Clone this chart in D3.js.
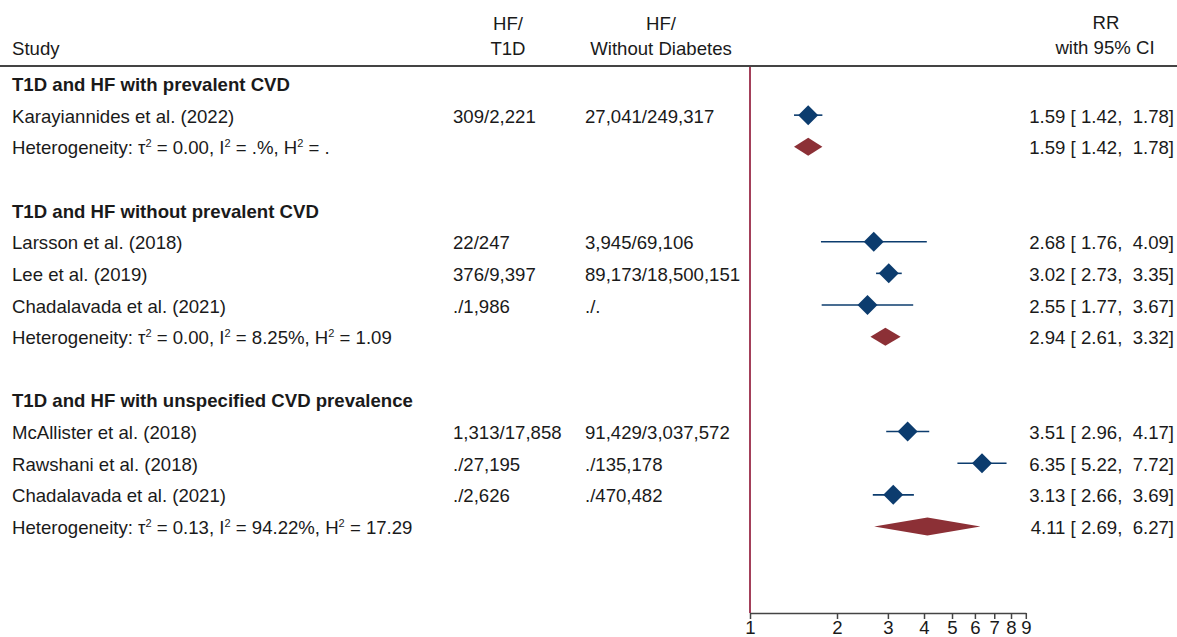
<!DOCTYPE html>
<html>
<head>
<meta charset="utf-8">
<script src="https://cdn.jsdelivr.net/npm/d3@7"></script>
<style>
  html, body { margin: 0; padding: 0; background: #fff; }
  svg { display: block; }
  text { font-family: "Liberation Sans", Arial, sans-serif; fill: #1a1a1a; white-space: pre; }
</style>
</head>
<body>
<svg id="chart" width="1177" height="637"></svg>
<script>
// ---- data ----
const groupTitles = [
  "T1D and HF with prevalent CVD",
  "T1D and HF without prevalent CVD",
  "T1D and HF with unspecified CVD prevalence"
];
const studies = [
  "Karayiannides et al. (2022)",
  "Larsson et al. (2018)",
  "Lee et al. (2019)",
  "Chadalavada et al. (2021)",
  "McAllister et al. (2018)",
  "Rawshani et al. (2018)",
  "Chadalavada et al. (2021)"
];
const studyGroup = [0, 1, 1, 1, 2, 2, 2];
const hfT1D = ["309/2,221", "22/247", "376/9,397", "./1,986", "1,313/17,858", "./27,195", "./2,626"];
const hfNoDM = ["27,041/249,317", "3,945/69,106", "89,173/18,500,151", "./.", "91,429/3,037,572", "./135,178", "./470,482"];
const studyRR = [1.59, 2.68, 3.02, 2.55, 3.51, 6.35, 3.13];
const studyLo = [1.42, 1.76, 2.73, 1.77, 2.96, 5.22, 2.66];
const studyHi = [1.78, 4.09, 3.35, 3.67, 4.17, 7.72, 3.69];
const pooledRR = [1.59, 2.94, 4.11];
const pooledLo = [1.42, 2.61, 2.69];
const pooledHi = [1.78, 3.32, 6.27];
const hetTau2 = ["0.00", "0.00", "0.13"];
const hetI2 = [".%", "8.25%", "94.22%"];
const hetH2 = [".", "1.09", "17.29"];
const axisTicks = [1, 2, 3, 4, 5, 6, 7, 8, 9];

// ---- layout ----
const svg = d3.select("#chart");
const FS = 18.6;
const x = d3.scaleLog().domain([1, 9]).range([750, 1025.8]);
const row = d3.scaleLinear().domain([0, 14]).range([91, 534]); // text baseline per row index

// build row list
const rows = [];
let r = 0;
groupTitles.forEach((g, gi) => {
  rows.push({ type: "title", gi, idx: r++ });
  studies.forEach((s, si) => {
    if (studyGroup[si] === gi) rows.push({ type: "study", si, idx: r++ });
  });
  rows.push({ type: "het", gi, idx: r++ });
  r++; // blank row
});

const fmt = d3.format(".2f");
const pad = v => { const s = fmt(v); return s.length < 5 ? " " + s : s; };
const ciText = (e, l, h) => `${fmt(e)} [${pad(l)}, ${pad(h)}]`;

// ---- header ----
const hdr = svg.append("g").style("font-size", FS + "px");
hdr.append("text").attr("x", 12).attr("y", 55).text("Study");
hdr.append("text").attr("x", 508).attr("y", 30).attr("text-anchor", "middle").text("HF/");
hdr.append("text").attr("x", 508).attr("y", 55).attr("text-anchor", "middle").text("T1D");
hdr.append("text").attr("x", 661).attr("y", 30).attr("text-anchor", "middle").text("HF/");
hdr.append("text").attr("x", 661).attr("y", 55).attr("text-anchor", "middle").text("Without Diabetes");
hdr.append("text").attr("x", 1106).attr("y", 29).attr("text-anchor", "middle").text("RR");
hdr.append("text").attr("x", 1105).attr("y", 54).attr("text-anchor", "middle").text("with 95% CI");

svg.append("line").attr("x1", 0).attr("x2", 1177).attr("y1", 66).attr("y2", 66)
  .attr("stroke", "#444").attr("stroke-width", 2);

// ---- null line ----
svg.append("line").attr("x1", x(1)).attr("x2", x(1)).attr("y1", 67).attr("y2", 613)
  .attr("stroke", "#a3405a").attr("stroke-width", 2);

// ---- rows ----
const g = svg.append("g").style("font-size", FS + "px");
const navy = "#0c3c6e", maroon = "#8c3036";

rows.forEach(d => {
  const y = row(d.idx);
  const cy = y - 7.5;
  if (d.type === "title") {
    g.append("text").attr("x", 12).attr("y", y).attr("font-weight", "bold").text(groupTitles[d.gi]);
  } else if (d.type === "study") {
    const i = d.si;
    g.append("text").attr("x", 12).attr("y", y).text(studies[i]);
    g.append("text").attr("x", 453).attr("y", y).text(hfT1D[i]);
    g.append("text").attr("x", 585).attr("y", y).text(hfNoDM[i]);
    g.append("text").attr("x", 1174).attr("y", y).attr("text-anchor", "end")
      .text(ciText(studyRR[i], studyLo[i], studyHi[i]));
    g.append("line").attr("x1", x(studyLo[i])).attr("x2", x(studyHi[i]))
      .attr("y1", cy).attr("y2", cy).attr("stroke", navy).attr("stroke-width", 1.6);
    const mx = x(studyRR[i]), s = 10;
    g.append("path").attr("d", `M${mx - s},${cy}L${mx},${cy - s}L${mx + s},${cy}L${mx},${cy + s}Z`)
      .attr("fill", navy);
  } else {
    const i = d.gi;
    const t = g.append("text").attr("x", 12).attr("y", y);
    t.append("tspan").text("Heterogeneity: τ");
    t.append("tspan").attr("dy", -7).style("font-size", "11px").text("2");
    t.append("tspan").attr("dy", 7).text(` = ${hetTau2[i]}, I`);
    t.append("tspan").attr("dy", -7).style("font-size", "11px").text("2");
    t.append("tspan").attr("dy", 7).text(` = ${hetI2[i]}, H`);
    t.append("tspan").attr("dy", -7).style("font-size", "11px").text("2");
    t.append("tspan").attr("dy", 7).text(` = ${hetH2[i]}`);
    g.append("text").attr("x", 1174).attr("y", y).attr("text-anchor", "end")
      .text(ciText(pooledRR[i], pooledLo[i], pooledHi[i]));
    const xl = x(pooledLo[i]), xe = x(pooledRR[i]), xh = x(pooledHi[i]), h = 9;
    g.append("path").attr("d", `M${xl},${cy}L${xe},${cy - h}L${xh},${cy}L${xe},${cy + h}Z`)
      .attr("fill", maroon);
  }
});

// ---- axis ----
const ax = svg.append("g").attr("transform", "translate(0,613)")
  .call(d3.axisBottom(x).tickValues(axisTicks).tickFormat(d3.format("d")).tickSize(6).tickSizeOuter(0));
ax.select(".domain").attr("stroke", "#444").attr("stroke-width", 1.5);
ax.selectAll(".tick line").attr("stroke", "#444").attr("stroke-width", 1.5);
ax.selectAll(".tick text").style("font-size", FS + "px")
  .style("font-family", '"Liberation Sans", Arial, sans-serif').attr("fill", "#1a1a1a")
  .attr("y", 8).attr("dy", "0.71em");
</script>
</body>
</html>
